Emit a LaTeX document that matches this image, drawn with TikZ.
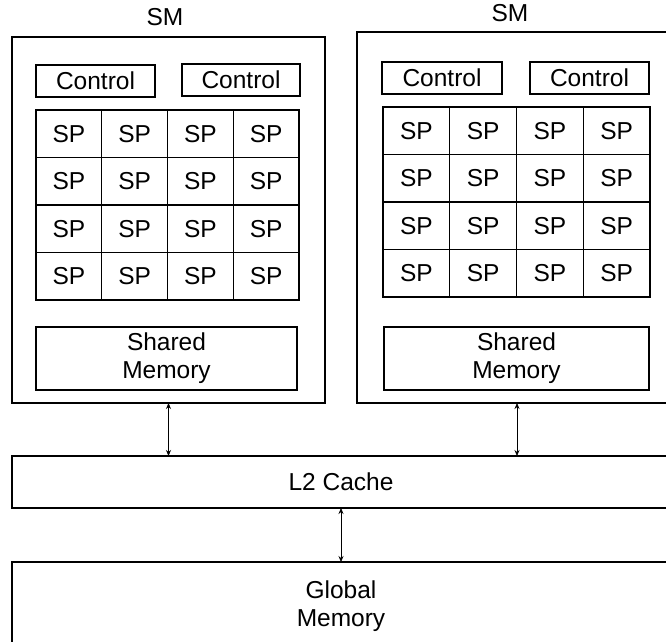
\documentclass[tikz,border=0pt]{standalone}
\usepackage{fontspec}
\setmainfont{Liberation Sans}
\usetikzlibrary{arrows.meta}
\tikzset{
  txt/.style={inner sep=0pt, align=center, font=\fontsize{24.5}{28}\selectfont},
  blk/.style={txt, draw, line width=1.4pt, outer sep=0pt},
  spcell/.style={blk, minimum width=65.75pt, minimum height=47.5pt},
  lnk/.style={<->, line width=0.7pt}
}
\begin{document}
\begin{tikzpicture}[x=1pt, y=-1pt, >={Stealth[length=6pt,width=5pt]}]
  \useasboundingbox (0,0) rectangle (666,641);
  \clip (0,0) rectangle (666,641);

  \node[blk, minimum width=313pt, minimum height=366pt] (sm1) at (168.5,220) {};
  \node[blk, minimum width=320pt, minimum height=371pt] (sm2) at (517,217.5) {};
  \node[txt] (sm1lbl) at (165,17) {SM};
  \node[txt] (sm2lbl) at (510,13) {SM};

  \node[blk, minimum width=119pt, minimum height=32pt] (ctl1a) at (95.5,81) {Control};
  \node[blk, minimum width=118pt, minimum height=32pt] (ctl1b) at (241,80) {Control};
  \node[blk, minimum width=120pt, minimum height=32pt] (ctl2a) at (442,78) {Control};
  \node[blk, minimum width=119pt, minimum height=32pt] (ctl2b) at (589.5,78) {Control};

  \foreach \r in {1,...,4}
    \foreach \c in {1,...,4} {
      \node[spcell] (spa-\r-\c) at ({36+65.75*(\c-0.5)},{110+47.5*(\r-0.5)}) {SP};
      \node[spcell, minimum width=66.75pt] (spb-\r-\c) at ({383+66.75*(\c-0.5)},{107+47.5*(\r-0.5)}) {SP};
    }

  \node[blk, minimum width=261pt, minimum height=63pt] (shm1) at (166.5,358.5) {Shared\\Memory};
  \node[blk, minimum width=265pt, minimum height=63pt] (shm2) at (516.5,358.5) {Shared\\Memory};

  \node[blk, minimum width=658pt, minimum height=52pt] (l2) at (341,482) {L2 Cache};
  \node[blk, minimum width=658pt, minimum height=89pt] (gmem) at (341,606.5) {Global\\Memory};

  \draw[lnk] (sm1.south) -- (sm1.south |- l2.north);
  \draw[lnk] (sm2.south) -- (sm2.south |- l2.north);
  \draw[lnk] (l2.south) -- (gmem.north);
\end{tikzpicture}
\end{document}
